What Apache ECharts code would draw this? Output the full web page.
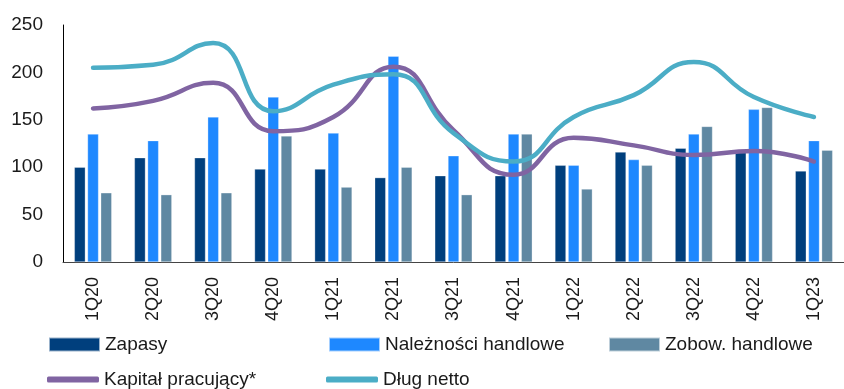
<!DOCTYPE html>
<html><head><meta charset="utf-8">
<script src="https://cdn.jsdelivr.net/npm/echarts@6/dist/echarts.min.js"></script>
<style>html,body{margin:0;padding:0;background:#fff}#c{width:844px;height:389px}</style>
</head><body><div id="c"></div>
<script>
const categories = ['1Q20','2Q20','3Q20','4Q20','1Q21','2Q21','3Q21','4Q21','1Q22','2Q22','3Q22','4Q22','1Q23'];
const zapasy = [100,110,110,98,98,89,91,91,102,116,120,116,96];
const naleznosci = [135,128,153,174,136,217,112,135,102,108,135,161,128];
const zobowiazania = [73,71,73,133,79,100,71,135,77,102,143,163,118];
const kapital = [162,170,189,138,153,206,139,92,131,123,113,117,106];
const dlug = [205,208,231,159,187,198,136,106,153,176,211,174,153];
const yTicks = {min:0, max:250, interval:50};

const FONT = '"Liberation Sans Narrow","Arial Narrow","Liberation Sans",sans-serif';
const C = {zap:'#003F7D', nal:'#1E88FF', zob:'#5F88A2', kap:'#8064A2', dlug:'#4BADC6'};
const chart = echarts.init(document.getElementById('c'));
const barBase = {type:'bar', barWidth:11, barGap:'20%', itemStyle:{borderColor:'rgba(255,255,255,0.6)',borderWidth:0.5}};
const lineBase = {type:'line', smooth:0.5, symbol:'none', lineStyle:{width:4.5, cap:'round'}};
const leg = (name, left, top, isLine) => ({
  data:[name], left:left, top:top, itemWidth: isLine ? 52 : 51, itemHeight: isLine ? 6 : 14,
  icon: isLine ? 'roundRect' : 'rect', itemGap:0, padding:0,
  textStyle:{fontFamily:FONT, fontSize:19, color:'#1a1a1a', padding:[0,0,0,0]}
});
chart.setOption({
  animation:false,
  grid:{left:63, right:-9, top:25, bottom:127, containLabel:false},
  legend:[
    leg('Zapasy',48,335,false),
    leg('Należności handlowe',328,335,false),
    leg('Zobow. handlowe',608,335,false),
    leg('Kapitał pracujący*',47,370,true),
    leg('Dług netto',326,370,true)
  ],
  xAxis:{type:'category', data:categories,
    axisLine:{lineStyle:{color:'#444', width:1}}, axisTick:{show:false},
    axisLabel:{rotate:90, margin:15, fontFamily:FONT, fontSize:18, color:'#1a1a1a', interval:0}},
  yAxis:{type:'value', min:yTicks.min, max:yTicks.max, interval:yTicks.interval,
    splitLine:{show:false}, axisLine:{show:true, lineStyle:{color:'#000', width:1}}, axisTick:{show:false},
    axisLabel:{margin:20, fontFamily:FONT, fontSize:19, color:'#1a1a1a'}},
  series:[
    Object.assign({}, barBase, {name:'Zapasy', data:zapasy, itemStyle:Object.assign({},barBase.itemStyle,{color:C.zap})}),
    Object.assign({}, barBase, {name:'Należności handlowe', data:naleznosci, itemStyle:Object.assign({},barBase.itemStyle,{color:C.nal})}),
    Object.assign({}, barBase, {name:'Zobow. handlowe', data:zobowiazania, itemStyle:Object.assign({},barBase.itemStyle,{color:C.zob})}),
    Object.assign({}, lineBase, {name:'Kapitał pracujący*', data:kapital, itemStyle:{color:C.kap}, lineStyle:Object.assign({},lineBase.lineStyle,{color:C.kap})}),
    Object.assign({}, lineBase, {name:'Dług netto', data:dlug, itemStyle:{color:C.dlug}, lineStyle:Object.assign({},lineBase.lineStyle,{color:C.dlug})})
  ]
});
</script></body></html>
